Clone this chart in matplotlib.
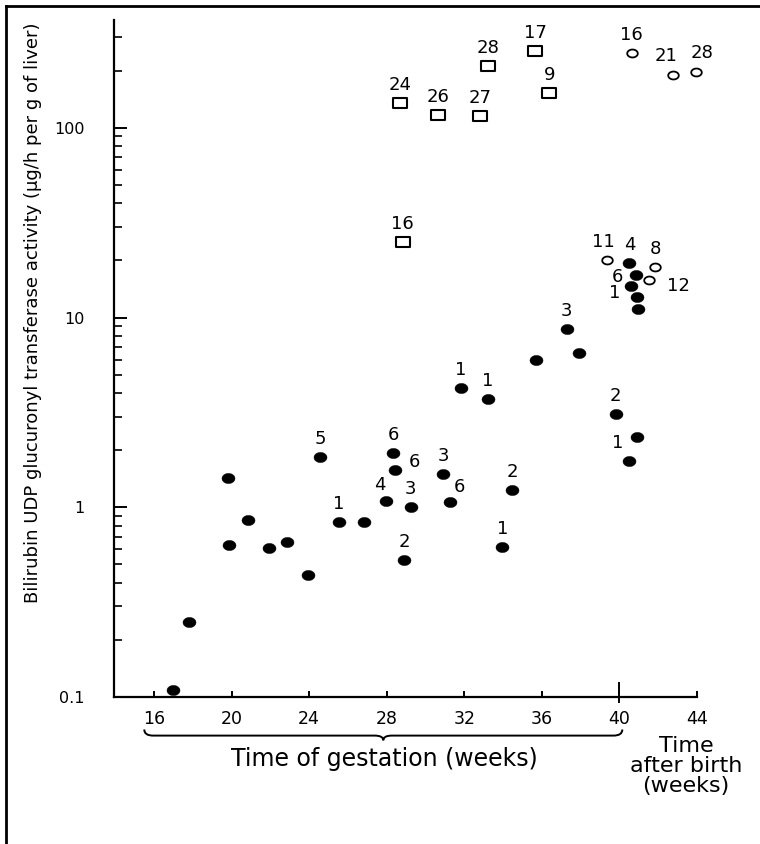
import numpy as np
import matplotlib
matplotlib.use('Agg')
import matplotlib.pyplot as plt
from matplotlib.path import Path
from matplotlib.patches import PathPatch
from matplotlib.lines import Line2D
from matplotlib.ticker import FixedLocator, NullFormatter, LogLocator
import matplotlib.transforms as mtransforms

# foetal / neonatal liver samples (filled circles)
fetal_weeks = [17.0, 17.82, 19.80, 19.87, 20.83, 21.93, 22.88, 23.93, 24.56, 25.54,
               26.83, 27.96, 28.34, 28.43, 28.89, 29.24, 30.92, 31.27, 31.83, 33.21,
               33.96, 34.48, 35.70, 37.28, 37.92, 39.81, 40.91, 40.51, 40.51, 40.86,
               40.58, 40.89, 40.94]
fetal_activity = [0.109, 0.249, 1.43, 0.629, 0.854, 0.611, 0.657, 0.44, 1.83, 0.834,
                  0.841, 1.08, 1.94, 1.57, 0.53, 1.0, 1.50, 1.06, 4.27, 3.73,
                  0.62, 1.23, 5.94, 8.65, 6.52, 3.11, 2.36, 1.76, 19.5, 16.8,
                  14.6, 12.8, 11.1]
fetal_labels = ['', '', '', '', '', '', '', '', '5', '1',
                '', '4', '6', '6', '2', '3', '3', '6', '1', '1',
                '1', '2', '', '3', '', '2', '', '1', '4', '6',
                '1', '', '']

# after birth (open circles)
postnatal_weeks = [40.64, 42.78, 43.95, 39.35, 41.84, 41.55]
postnatal_activity = [249, 190, 198, 20.2, 18.4, 15.8]
postnatal_labels = ['16', '21', '28', '11', '8', '12']

# open squares
square_weeks = [28.69, 30.66, 32.81, 33.24, 35.65, 36.39, 28.83]
square_activity = [135, 117, 116, 212, 255, 152, 25.0]
square_labels = ['24', '26', '27', '28', '17', '9', '16']

x_ticks = [16, 20, 24, 28, 32, 36, 40, 44]
y_ticks = [0.1, 1, 10, 100]
y_tick_labels = ['0.1', '1', '10', '100']

# label offsets in pixels (dx, dy up); default is straight above
fetal_offsets = {13: (19, 8), 17: (9, 15), 11: (-6, 16), 27: (-12, 18),
                 29: (-19, -2), 30: (-16, -7)}
postnatal_offsets = {1: (-7, 19), 2: (6, 19), 3: (-3, 18), 5: (29, -6)}
default_offset = (0, 18)

fig = plt.figure(figsize=(7.6, 8.44), dpi=100)
ax = fig.add_axes([114/760, 1-697/844, (697-114)/760, (697-20)/844])

theta = np.linspace(0, 2*np.pi, 60)
ellipse = Path(np.column_stack([np.cos(theta), 0.78*np.sin(theta)]), closed=True)
oval = Path(np.column_stack([np.cos(theta), 0.75*np.sin(theta)]), closed=True)
box = Path([(-1, -0.72), (1, -0.72), (1, 0.72), (-1, 0.72), (-1, -0.72)], closed=True)

ax.plot(fetal_weeks, fetal_activity, ls='none', marker=ellipse, ms=9.4,
        mfc='black', mec='black', mew=0.3, clip_on=False, zorder=3)
ax.plot(postnatal_weeks, postnatal_activity, ls='none', marker=oval, ms=7.6,
        mfc='none', mec='black', mew=1.3, clip_on=False, zorder=3)
ax.plot(square_weeks, square_activity, ls='none', marker=box, ms=9.8,
        mfc='none', mec='black', mew=1.5, clip_on=False, zorder=3)

def put_labels(xs, ys, labels, offsets):
    for i, (x, y, lab) in enumerate(zip(xs, ys, labels)):
        if not lab:
            continue
        dx, dy = offsets.get(i, default_offset)
        ax.annotate(lab, (x, y), xytext=(dx, dy), textcoords='offset pixels',
                    ha='center', va='center', fontsize=13)

put_labels(fetal_weeks, fetal_activity, fetal_labels, fetal_offsets)
put_labels(postnatal_weeks, postnatal_activity, postnatal_labels, postnatal_offsets)
put_labels(square_weeks, square_activity, square_labels, {})

ax.set_yscale('log')
ax.set_xlim(13.94, 44.0)
ax.set_ylim(0.1, 370)
ax.set_xticks(x_ticks)
ax.yaxis.set_major_locator(FixedLocator(y_ticks))
ax.set_yticklabels(y_tick_labels)
ax.yaxis.set_minor_locator(LogLocator(base=10, subs=np.arange(2, 10)))
ax.yaxis.set_minor_formatter(NullFormatter())

for s in ['top', 'right']:
    ax.spines[s].set_visible(False)
for s in ['left', 'bottom']:
    ax.spines[s].set_linewidth(1.6)

ax.tick_params(axis='both', which='both', direction='in', color='black')
ax.tick_params(axis='y', which='major', length=9, width=1.4, pad=21, labelsize=11.5)
ax.tick_params(axis='y', which='minor', length=6, width=1.2)
ax.tick_params(axis='x', which='major', length=4.5, width=1.4, pad=9, labelsize=12.5)

# birth marker on the time axis
ax.axvline(40, ymin=-0.008, ymax=0.02, color='black', lw=1.4, clip_on=False)

# brace under the gestation range
trans = mtransforms.blended_transform_factory(ax.transData, ax.transAxes)
x0, x1 = 15.5, 40.15
xm = (x0 + x1) / 2
r = 0.45
ye, yb, yt = -0.048, -0.057, -0.064
verts = [(x0, ye), (x0, yb), (x0 + r, yb), (xm - r, yb), (xm, yb), (xm, yt),
         (xm, yb), (xm + r, yb), (x1 - r, yb), (x1, yb), (x1, ye)]
codes = [Path.MOVETO, Path.CURVE3, Path.CURVE3, Path.LINETO, Path.CURVE3, Path.CURVE3,
         Path.CURVE3, Path.CURVE3, Path.LINETO, Path.CURVE3, Path.CURVE3]
ax.add_patch(PathPatch(Path(verts, codes), fill=False, lw=1.4, transform=trans,
                       clip_on=False))

fig.text(384/760, 1-759/844, 'Time of gestation (weeks)', ha='center', va='center',
         fontsize=17)
fig.text(686/760, 1-766/844, 'Time\nafter birth\n(weeks)', ha='center', va='center',
         fontsize=16, linespacing=1.0)
fig.text(33/760, 1-313/844,
         'Bilirubin UDP glucuronyl transferase activity (\u03bcg/h per g of liver)',
         rotation=90, ha='center', va='center', fontsize=13)

# scan frame: left and top edges only
fig.lines.append(Line2D([6/760, 6/760], [0, 1-6/844], transform=fig.transFigure,
                        color='black', lw=2))
fig.lines.append(Line2D([6/760, 1], [1-6/844, 1-6/844], transform=fig.transFigure,
                        color='black', lw=2))

fig.savefig('out.png', dpi=100)
